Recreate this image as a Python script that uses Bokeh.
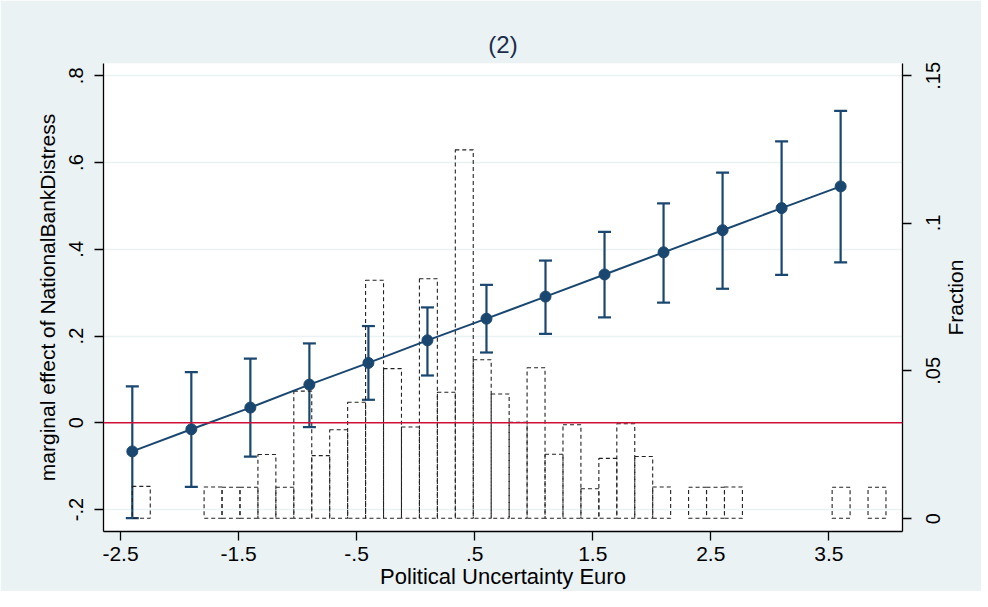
import math
from bokeh.plotting import figure
from bokeh.models import Range1d, LinearAxis, FixedTicker, Span, Whisker, ColumnDataSource, TeeHead
from bokeh.embed import file_html
from bokeh.resources import INLINE

# marginal effect of NationalBankDistress at values of Political Uncertainty Euro
pue = [-2.4, -1.9, -1.4, -0.9, -0.4, 0.1, 0.6, 1.1, 1.6, 2.1, 2.6, 3.1, 3.6]
effect = [-0.066, -0.015, 0.035, 0.088, 0.138, 0.190, 0.240, 0.291, 0.342, 0.393, 0.444, 0.495, 0.545]
ci_low = [-0.220, -0.148, -0.078, -0.010, 0.053, 0.109, 0.162, 0.205, 0.243, 0.277, 0.309, 0.341, 0.370]
ci_high = [0.084, 0.117, 0.148, 0.183, 0.223, 0.266, 0.318, 0.374, 0.440, 0.506, 0.577, 0.649, 0.719]

# histogram of Political Uncertainty Euro (fraction per bin)
hist_start = -2.40
hist_width = 0.152
hist_frac = [0.0108, 0, 0, 0, 0.0106, 0.0105, 0.0105, 0.0216, 0.0105, 0.0431,
             0.0212, 0.0300, 0.0393, 0.0807, 0.0507, 0.0309, 0.0812, 0.0427, 0.1249, 0.0537,
             0.0421, 0.0325, 0.0510, 0.0217, 0.0317, 0.0100, 0.0203, 0.0320, 0.0209, 0.0106,
             0, 0.0105, 0.0105, 0.0106, 0, 0, 0, 0, 0, 0.0105,
             0, 0.0105]

x_ticks = [-2.5, -1.5, -0.5, 0.5, 1.5, 2.5, 3.5]
x_labels = ["-2.5", "-1.5", "-.5", ".5", "1.5", "2.5", "3.5"]
y_ticks = [-0.2, 0, 0.2, 0.4, 0.6, 0.8]
y_labels = ["-.2", "0", ".2", ".4", ".6", ".8"]
frac_ticks = [0, 0.05, 0.1, 0.15]
frac_labels = ["0", ".05", ".1", ".15"]

BG = "#EAF2F3"
NAVY = "#1A476F"
FONT = "Liberation Sans"
FW, FH = 799, 468
FRAC_LO, FRAC_HI = -0.00451, 0.15417

p = figure(frame_width=FW, frame_height=FH,
           x_range=Range1d(-2.644, 4.124), y_range=Range1d(-0.2507, 0.8284),
           min_border_left=103, min_border_right=70, min_border_top=63, min_border_bottom=60,
           border_fill_color=BG, background_fill_color="white", outline_line_color=None,
           output_backend="svg", toolbar_location=None, title="(2)")
p.extra_y_ranges = {"frac": Range1d(FRAC_LO, FRAC_HI)}

p.title.align = "center"
p.title.text_font = FONT
p.title.text_font_size = "24px"
p.title.text_font_style = "normal"
p.title.text_color = "#1c2c4c"
p.title.standoff = 11

# histogram
lefts = [hist_start + i * hist_width for i in range(len(hist_frac))]
rights = [l + hist_width for l in lefts]
hsrc = ColumnDataSource(dict(left=[l for l, f in zip(lefts, hist_frac) if f > 0],
                             right=[r for r, f in zip(rights, hist_frac) if f > 0],
                             top=[f for f in hist_frac if f > 0]))
p.quad(left="left", right="right", bottom=0, top="top", source=hsrc, y_range_name="frac",
       fill_alpha=0, line_color="#222222", line_width=1.1, line_dash="4 3")

p.add_layout(Span(location=0, dimension="width", line_color="#D0103A", line_width=1.6))

# confidence intervals
src = ColumnDataSource(dict(x=pue, y=effect, lo=ci_low, hi=ci_high))
p.add_layout(Whisker(base="x", lower="lo", upper="hi", source=src, dimension="height",
                     line_color=NAVY, line_width=2.2,
                     upper_head=TeeHead(size=13, line_color=NAVY, line_width=2.2),
                     lower_head=TeeHead(size=13, line_color=NAVY, line_width=2.2)))
p.line("x", "y", source=src, line_color=NAVY, line_width=2)
p.scatter("x", "y", source=src, size=11, fill_color=NAVY, line_color=NAVY)

# axes
p.xaxis.ticker = FixedTicker(ticks=x_ticks)
p.xaxis.major_label_overrides = dict(zip(x_ticks, x_labels))
p.xaxis.axis_label = "Political Uncertainty Euro"
p.yaxis.ticker = FixedTicker(ticks=y_ticks)
p.yaxis.major_label_overrides = dict(zip(y_ticks, y_labels))
p.yaxis.axis_label = "marginal effect of NationalBankDistress"
p.yaxis.major_label_orientation = "vertical"

for ax in [p.xaxis[0], p.yaxis[0]]:
    ax.axis_line_color = "black"
    ax.axis_line_width = 1.3
    ax.major_tick_line_color = "black"
    ax.major_tick_line_width = 1.3
    ax.major_tick_in = 0
    ax.major_tick_out = 9
    ax.minor_tick_line_color = None
    ax.major_label_text_font = FONT
    ax.major_label_text_font_size = "20px"
    ax.major_label_text_color = "black"
    ax.axis_label_text_font = FONT
    ax.axis_label_text_font_size = "21px"
    ax.axis_label_text_font_style = "normal"
    ax.axis_label_text_color = "black"

p.xaxis.major_label_text_font_size = "21px"
p.xaxis.axis_label_text_font_size = "22px"
p.xaxis.major_label_standoff = 6
p.xaxis.axis_label_standoff = 0
p.yaxis.major_label_standoff = 11
p.yaxis.axis_label_standoff = 8

# right axis: visible tick marks are minor ticks at the real values; the upward reading
# texts start at their tick, so each label tick is moved back by half the text length
px_per_frac = FH / (FRAC_HI - FRAC_LO)
half_len_px = [6, 14, 8, 14]
lab_pos = [t - h / px_per_frac for t, h in zip(frac_ticks, half_len_px)]
right = LinearAxis(y_range_name="frac", ticker=FixedTicker(ticks=lab_pos, minor_ticks=frac_ticks),
                   major_label_overrides=dict(zip(lab_pos, frac_labels)),
                   major_label_orientation=math.pi / 2, major_label_standoff=22,
                   major_label_text_font=FONT, major_label_text_font_size="20px",
                   major_label_text_color="black",
                   axis_line_color="black", axis_line_width=1.3,
                   major_tick_line_color=None, major_tick_in=0, major_tick_out=9,
                   minor_tick_line_color="black", minor_tick_line_width=1.3,
                   minor_tick_in=0, minor_tick_out=9)
p.add_layout(right, "right")

title_pos = [(FRAC_LO + FRAC_HI) / 2 - 38 / px_per_frac]
right_title = LinearAxis(y_range_name="frac", ticker=FixedTicker(ticks=title_pos),
                         major_label_overrides={title_pos[0]: "Fraction"},
                         major_label_orientation=math.pi / 2, major_label_standoff=5,
                         major_label_text_font=FONT, major_label_text_font_size="21px",
                         major_label_text_color="black",
                         axis_line_color=None, major_tick_line_color=None,
                         major_tick_in=0, major_tick_out=0, minor_tick_line_color=None)
p.add_layout(right_title, "right")

p.xgrid.visible = False
p.ygrid.ticker = FixedTicker(ticks=y_ticks)
p.ygrid.grid_line_color = BG
p.ygrid.grid_line_width = 1.5

open("out.html", "w").write(file_html(p, INLINE))
